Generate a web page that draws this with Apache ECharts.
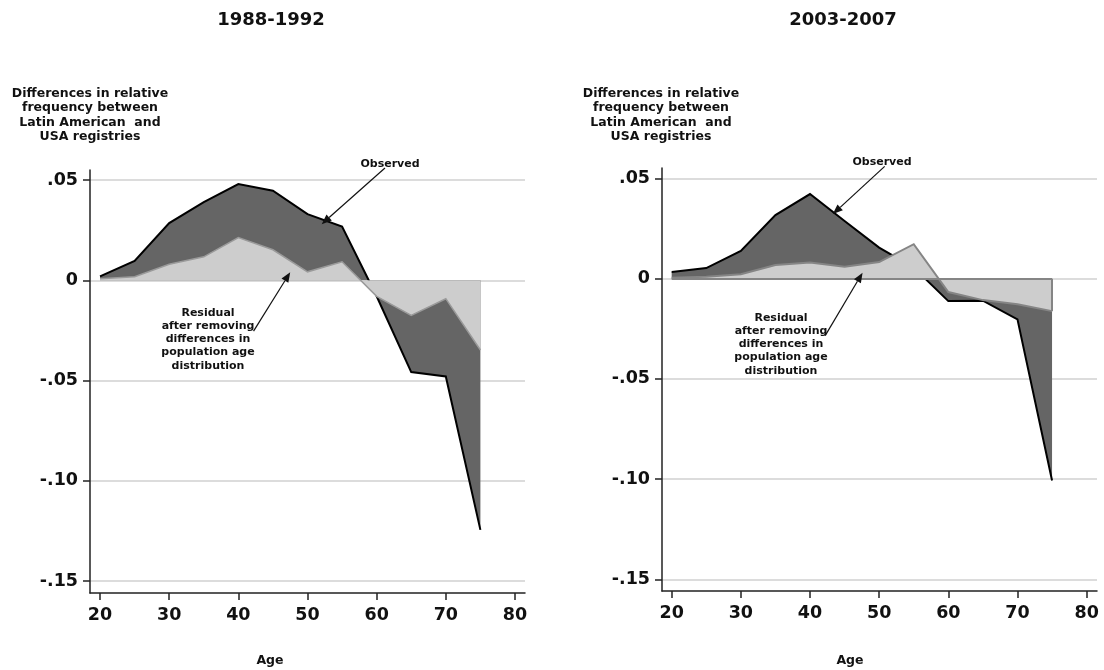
<!DOCTYPE html>
<html>
<head>
<meta charset="utf-8">
<title>Differences in relative frequency by age</title>
<script src="https://cdn.jsdelivr.net/npm/echarts@6/dist/echarts.min.js"></script>
<style>
  html, body { margin: 0; padding: 0; background: #ffffff; }
  #chart { width: 1104px; height: 670px; }
</style>
</head>
<body>
<div id="chart"></div>
<script>
// Age groups (lower bound of each 5-year band)
const ages = [20, 25, 30, 35, 40, 45, 50, 55, 60, 65, 70, 75];

// 1988-1992: observed difference and residual after age standardisation
const observed8892 = [0.0019, 0.0097, 0.0285, 0.0390, 0.0480, 0.0447, 0.0330, 0.0268, -0.0080, -0.0458, -0.0480, -0.1245];
const residual8892 = [0.0008, 0.0018, 0.0080, 0.0117, 0.0213, 0.0152, 0.0042, 0.0092, -0.0080, -0.0175, -0.0092, -0.0348];

// 2003-2007
const observed0307 = [0.0033, 0.0053, 0.0138, 0.0317, 0.0422, 0.0288, 0.0155, 0.0055, -0.0112, -0.0110, -0.0203, -0.1007];
const residual0307 = [0.0005, 0.0010, 0.0022, 0.0068, 0.0080, 0.0060, 0.0083, 0.0172, -0.0067, -0.0107, -0.0128, -0.0162];

// Axis ticks
const xTicks = [20, 30, 40, 50, 60, 70, 80];
const yTicks = [0.05, 0, -0.05, -0.10, -0.15];
const yTickLabels = ['.05', '0', '-.05', '-.10', '-.15'];

const panelTitles = ['1988-1992', '2003-2007'];
const yTitle = 'Differences in relative\nfrequency between\nLatin American  and\nUSA registries';
const xTitle = 'Age';
const residualNote = 'Residual\nafter removing\ndifferences in\npopulation age\ndistribution';
const observedNote = 'Observed';

// Annotation arrows in data space: [tailAge, tailValue, headAge, headValue]
const arrows = [
  { grid: 0, observed: [61.2, 0.0560, 52.05, 0.0280], residual: [42.2, -0.0254, 47.5, 0.0040] },
  { grid: 1, observed: [50.8, 0.0560, 43.3, 0.0322], residual: [42.2, -0.0284, 47.6, 0.0030] }
];

const FONT = '"DejaVu Sans", Verdana, sans-serif';
const DARK = '#656565';
const LIGHT = '#cdcdcd';

function zip(xs, ys) { return xs.map((x, i) => [x, ys[i]]); }

function yLabel(v) {
  const i = yTicks.findIndex(t => Math.abs(t - v) < 1e-9);
  return i >= 0 ? yTickLabels[i] : '';
}

function makeXAxis(gridIndex, min, max) {
  return {
    type: 'value', gridIndex, min, max,
    axisLine: { show: true, onZero: false, lineStyle: { color: '#222', width: 1.5 } },
    axisTick: { show: true, length: 7, customValues: xTicks, lineStyle: { color: '#222', width: 1.5 } },
    axisLabel: { customValues: xTicks, margin: 13, fontFamily: FONT, fontWeight: 'bold', fontSize: 17.5, color: '#111' },
    splitLine: { show: false }
  };
}

function makeYAxis(gridIndex, min, max) {
  return {
    type: 'value', gridIndex, min, max,
    axisLine: { show: true, onZero: false, lineStyle: { color: '#222', width: 1.5 } },
    axisTick: { show: true, length: 7, customValues: yTicks, lineStyle: { color: '#222', width: 1.5 } },
    axisLabel: { customValues: yTicks, margin: 12, formatter: yLabel, fontFamily: FONT, fontWeight: 'bold', fontSize: 17.5, color: '#111' },
    splitLine: { show: true, lineStyle: { color: '#d0d0d0', width: 1.5 } }
  };
}

function areaSeries(idx, values, fill, line, lineWidth, z) {
  return {
    type: 'line', xAxisIndex: idx, yAxisIndex: idx,
    data: zip(ages, values),
    symbol: 'none', z,
    lineStyle: { color: line, width: lineWidth, join: 'miter' },
    areaStyle: { color: fill, opacity: 1 },
    emphasis: { disabled: true }, silent: true, animation: false
  };
}

const last = ages.length - 1;

const option = {
  backgroundColor: '#ffffff',
  animation: false,
  grid: [
    { left: 90, top: 170, width: 435, height: 423 },
    { left: 662, top: 168, width: 435, height: 423 }
  ],
  xAxis: [makeXAxis(0, 18.55, 81.45), makeXAxis(1, 18.6, 81.5)],
  yAxis: [makeYAxis(0, -0.156, 0.055), makeYAxis(1, -0.1558, 0.0552)],
  series: [
    areaSeries(0, observed8892, DARK, '#000', 2, 2),
    areaSeries(0, residual8892, LIGHT, '#9a9a9a', 1.5, 3),
    areaSeries(1, observed0307, DARK, '#000', 2, 2),
    Object.assign(areaSeries(1, residual0307, LIGHT, '#858585', 2, 3), {
      // outline of the residual area along the baseline and its right edge
      markLine: {
        silent: true, symbol: ['none', 'none'], label: { show: false },
        lineStyle: { color: '#858585', width: 2, type: 'solid' },
        emphasis: { disabled: true },
        data: [
          [{ coord: [ages[0], 0] }, { coord: [ages[last], 0] }],
          [{ coord: [ages[last], 0] }, { coord: [ages[last], residual0307[last]] }]
        ]
      }
    })
  ],
  graphic: []
};

const chart = echarts.init(document.getElementById('chart'), null, { renderer: 'canvas' });
chart.setOption(option);

// Texts and annotation arrows
const textStyle = (text, size, extra) => Object.assign({
  text, fontFamily: FONT, fontWeight: 'bold', fontSize: size, fill: '#111',
  align: 'center', verticalAlign: 'middle'
}, extra || {});

const graphics = [
  { type: 'text', x: 271, y: 20, style: textStyle(panelTitles[0], 18) },
  { type: 'text', x: 843, y: 20, style: textStyle(panelTitles[1], 18) },
  { type: 'text', x: 90, y: 86, style: textStyle(yTitle, 12.5, { verticalAlign: 'top', lineHeight: 14.6 }) },
  { type: 'text', x: 661, y: 86, style: textStyle(yTitle, 12.5, { verticalAlign: 'top', lineHeight: 14.6 }) },
  { type: 'text', x: 270, y: 661, style: textStyle(xTitle, 12.5) },
  { type: 'text', x: 850, y: 661, style: textStyle(xTitle, 12.5) },
  { type: 'text', x: 390, y: 164, style: textStyle(observedNote, 11) },
  { type: 'text', x: 882, y: 162, style: textStyle(observedNote, 11) },
  { type: 'text', x: 208, y: 306, style: textStyle(residualNote, 11, { verticalAlign: 'top', lineHeight: 13.3 }) },
  { type: 'text', x: 781, y: 311, style: textStyle(residualNote, 11, { verticalAlign: 'top', lineHeight: 13.3 }) }
];

function arrow(gridIndex, spec) {
  const p0 = chart.convertToPixel({ gridIndex }, [spec[0], spec[1]]);
  const p1 = chart.convertToPixel({ gridIndex }, [spec[2], spec[3]]);
  const dx = p1[0] - p0[0], dy = p1[1] - p0[1];
  const len = Math.sqrt(dx * dx + dy * dy);
  const ux = dx / len, uy = dy / len;
  const headLen = 10, headHalf = 4;
  const bx = p1[0] - ux * headLen, by = p1[1] - uy * headLen;
  return [
    { type: 'line', shape: { x1: p0[0], y1: p0[1], x2: bx, y2: by }, style: { stroke: '#111', lineWidth: 1.2 }, z: 100 },
    { type: 'polygon', shape: { points: [
        [p1[0], p1[1]],
        [bx - uy * headHalf, by + ux * headHalf],
        [bx + uy * headHalf, by - ux * headHalf]
      ] }, style: { fill: '#111' }, z: 100 }
  ];
}

arrows.forEach(a => {
  graphics.push(...arrow(a.grid, a.observed));
  graphics.push(...arrow(a.grid, a.residual));
});

chart.setOption({ graphic: graphics });
</script>
</body>
</html>
